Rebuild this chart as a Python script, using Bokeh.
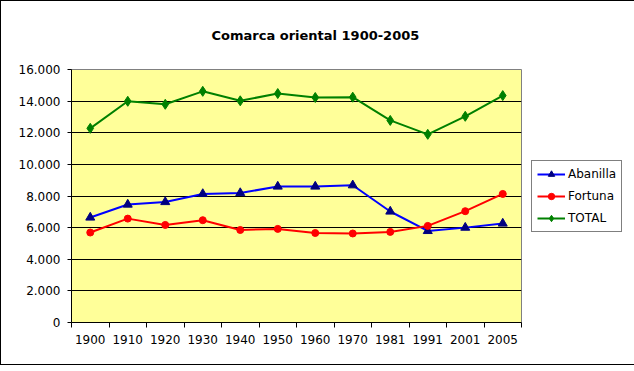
from bokeh.plotting import figure
from bokeh.models import FixedTicker, Legend, LegendItem, Range1d
from bokeh.embed import file_html
from bokeh.resources import INLINE

years = ["1900", "1910", "1920", "1930", "1940", "1950", "1960", "1970", "1981", "1991", "2001", "2005"]
abanilla = [6640, 7460, 7620, 8130, 8190, 8600, 8600, 8680, 7020, 5790, 6000, 6260]
fortuna = [5690, 6570, 6170, 6470, 5850, 5920, 5660, 5630, 5730, 6110, 7040, 8130]
total = [12280, 13990, 13800, 14620, 14020, 14480, 14230, 14250, 12780, 11900, 13040, 14350]
y_ticks = [0, 2000, 4000, 6000, 8000, 10000, 12000, 14000, 16000]
y_labels = ["0", "2.000", "4.000", "6.000", "8.000", "10.000", "12.000", "14.000", "16.000"]

FONT = "DejaVu Sans"
xs = [i + 0.5 for i in range(len(years))]

p = figure(frame_width=450, frame_height=253, output_backend="svg", toolbar_location=None,
           x_range=Range1d(0, len(years)), y_range=Range1d(0, 16000),
           min_border_left=70, min_border_right=0, min_border_bottom=42, min_border_top=68)
p.styles = {"border": "1px solid black"}
p.background_fill_color = "#FFFF99"
p.border_fill_color = "white"
p.outline_line_color = "#808080"
p.outline_line_width = 1

p.title.text = "Comarca oriental 1900-2005"
p.title.align = "left"
p.title.offset = 140
p.title.standoff = 50
p.title.vertical_align = "top"
p.title.text_font = FONT
p.title.text_font_size = "13px"
p.title.text_font_style = "bold"
p.title.text_color = "black"

# x axis
p.xaxis.ticker = FixedTicker(ticks=xs, minor_ticks=list(range(len(years) + 1)))
p.xaxis.major_label_overrides = {x: y for x, y in zip(xs, years)}
p.xaxis.major_tick_line_color = None
p.xaxis.major_tick_out = 5
p.xaxis.major_tick_in = 0
p.xaxis.minor_tick_out = 5
p.xaxis.minor_tick_in = 0
p.xaxis.minor_tick_line_color = "black"
p.xaxis.major_label_standoff = 7
p.xaxis.axis_line_color = "black"

# y axis
p.yaxis.ticker = FixedTicker(ticks=y_ticks, minor_ticks=[])
p.yaxis.major_label_overrides = {t: l for t, l in zip(y_ticks, y_labels)}
p.yaxis.major_tick_out = 4
p.yaxis.major_tick_in = 0
p.yaxis.major_tick_line_color = "black"
p.yaxis.major_label_standoff = 7
p.yaxis.axis_line_color = "black"

for ax in (p.xaxis, p.yaxis):
    ax.major_label_text_font = FONT
    ax.major_label_text_font_size = "12px"
    ax.major_label_text_color = "black"

p.xgrid.grid_line_color = None
p.ygrid.ticker = FixedTicker(ticks=y_ticks[1:-1])
p.ygrid.grid_line_color = "black"
p.ygrid.grid_line_width = 1

l1 = p.line(xs, abanilla, line_color="#0000FF", line_width=2)
m1 = p.scatter(xs, abanilla, marker="triangle", size=9, fill_color="#000080", line_color="#000080")
l2 = p.line(xs, fortuna, line_color="#FF0000", line_width=2)
m2 = p.scatter(xs, fortuna, marker="circle", size=7, fill_color="#FF0000", line_color="#FF0000")
l3 = p.line(xs, total, line_color="#008000", line_width=2)
m3 = p.scatter(xs, total, marker="diamond", size=10, fill_color="#008000", line_color="#008000")

legend = Legend(items=[
    LegendItem(label="Abanilla", renderers=[l1, m1]),
    LegendItem(label="Fortuna", renderers=[l2, m2]),
    LegendItem(label="TOTAL", renderers=[l3, m3]),
], location="center_left")
legend.label_text_font = FONT
legend.label_text_font_size = "12px"
legend.label_text_color = "black"
legend.glyph_width = 28
legend.glyph_height = 16
legend.label_height = 16
legend.label_width = 48
legend.spacing = 6
legend.padding = 5
legend.margin = 10
legend.label_standoff = 3
legend.border_line_color = "black"
legend.border_line_width = 1
legend.background_fill_color = "white"
legend.background_fill_alpha = 1
p.add_layout(legend, "right")

open("out.html", "w").write(file_html(p, INLINE))
